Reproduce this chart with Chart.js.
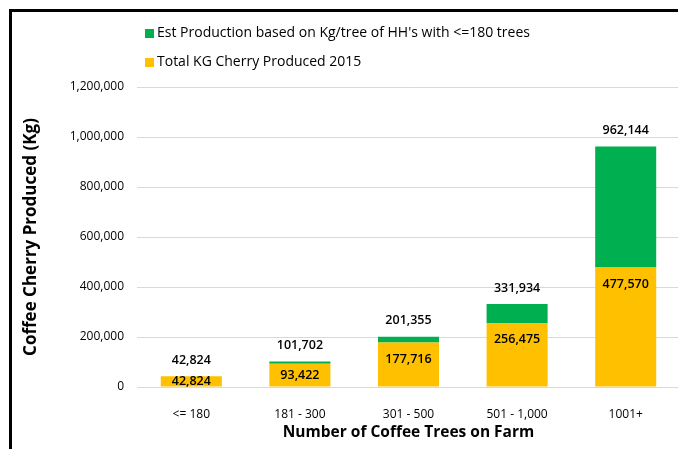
<!DOCTYPE html>
<html>
<head>
<meta charset="utf-8">
<script src="https://cdn.jsdelivr.net/npm/chart.js@4.4.1/dist/chart.umd.min.js"></script>
<style>
  html, body { margin: 0; padding: 0; background: #fff; overflow: hidden; }
  body { width: 678px; height: 449px; position: relative; font-family: "Open Sans", sans-serif; }
  #frame { position: absolute; left: 9px; top: 9px; width: 720px; height: 480px;
           border-left: 3px solid #000; border-top: 3px solid #000; }
  #chart { position: absolute; left: 0; top: 0; }
  #legend { position: absolute; left: 0; top: 0; font-size: 14px; color: #000; }
  .item { position: absolute; left: 145px; white-space: nowrap; line-height: 18px; }
  .item i { display: inline-block; width: 9px; height: 9px; margin-right: 3px; vertical-align: -1px; }
</style>
</head>
<body>
<div id="frame"></div>
<canvas id="chart" width="684" height="449"></canvas>
<div id="legend"></div>
<script>
  const categories = ["<= 180", "181 - 300", "301 - 500", "501 - 1,000", "1001+"];
  const totalProduced = [42824, 93422, 177716, 256475, 477570];
  const estProduction = [42824, 101702, 201355, 331934, 962144];
  // green segment sits on top of the yellow one, so it only covers the difference
  const estExtra = estProduction.map((v, i) => v - totalProduced[i]);

  const seriesNames = ["Est Production based on Kg/tree of HH's with <=180 trees", "Total KG Cherry Produced 2015"];
  const seriesColors = ["#00B050", "#FFC000"];

  const yMax = 1200000;
  const yStep = 200000;

  const fmt = (v) => v.toLocaleString("en-US");

  // legend (green first, then yellow)
  const legend = document.getElementById("legend");
  const rowTops = [23, 52];
  seriesNames.forEach((name, i) => {
    const row = document.createElement("div");
    row.className = "item";
    row.style.top = rowTops[i] + "px";
    const box = document.createElement("i");
    box.style.background = seriesColors[i];
    row.appendChild(box);
    row.appendChild(document.createTextNode(name));
    legend.appendChild(row);
  });

  const valueLabels = {
    id: "valueLabels",
    afterDatasetsDraw(chart) {
      const { ctx } = chart;
      const base = chart.scales.y.getPixelForValue(0);
      const lower = chart.getDatasetMeta(0);
      const upper = chart.getDatasetMeta(1);
      ctx.save();
      ctx.font = '600 12.5px "Open Sans"';
      ctx.fillStyle = "#000";
      ctx.textAlign = "center";
      ctx.textBaseline = "middle";
      lower.data.forEach((bar, i) => {
        const y = Math.min(bar.y + 16.5, (bar.y + base) / 2);
        ctx.fillText(fmt(totalProduced[i]), bar.x, y);
        const top = upper.data[i];
        ctx.fillText(fmt(estProduction[i]), top.x, top.y - 16);
      });
      ctx.restore();
    }
  };

  new Chart(document.getElementById("chart").getContext("2d"), {
    type: "bar",
    data: {
      labels: categories,
      datasets: [
        { label: seriesNames[1], data: totalProduced, backgroundColor: seriesColors[1],
          categoryPercentage: 1, barPercentage: 0.562 },
        { label: seriesNames[0], data: estExtra, backgroundColor: seriesColors[0],
          categoryPercentage: 1, barPercentage: 0.562 }
      ]
    },
    options: {
      responsive: false,
      animation: false,
      layout: { padding: { top: 87, right: 4, left: 0, bottom: 0 } },
      plugins: { legend: { display: false }, tooltip: { enabled: false } },
      scales: {
        x: {
          stacked: true,
          grid: { display: false },
          border: { color: "#D9D9D9" },
          ticks: { padding: 12, color: "#000", font: { family: "Open Sans", size: 12 } },
          title: { display: true, text: "Number of Coffee Trees on Farm", color: "#000",
                   font: { family: "Open Sans", size: 15.5, weight: "bold" }, padding: { top: 0, bottom: 7 } },
          afterFit: (scale) => { scale.height = 62; }
        },
        y: {
          stacked: true,
          min: 0,
          max: yMax,
          border: { display: false },
          grid: { color: "#D9D9D9", drawTicks: false },
          ticks: { stepSize: yStep, padding: 13, color: "#000",
                   font: { family: "Open Sans", size: 12 }, callback: (v) => fmt(v) },
          title: { display: true, text: "Coffee Cherry Produced (Kg)", color: "#000",
                   font: { family: "Open Sans", size: 17, weight: "bold" }, padding: { top: 21, bottom: 0 } },
          afterFit: (scale) => { scale.width = 137; }
        }
      }
    },
    plugins: [valueLabels]
  });
</script>
</body>
</html>
